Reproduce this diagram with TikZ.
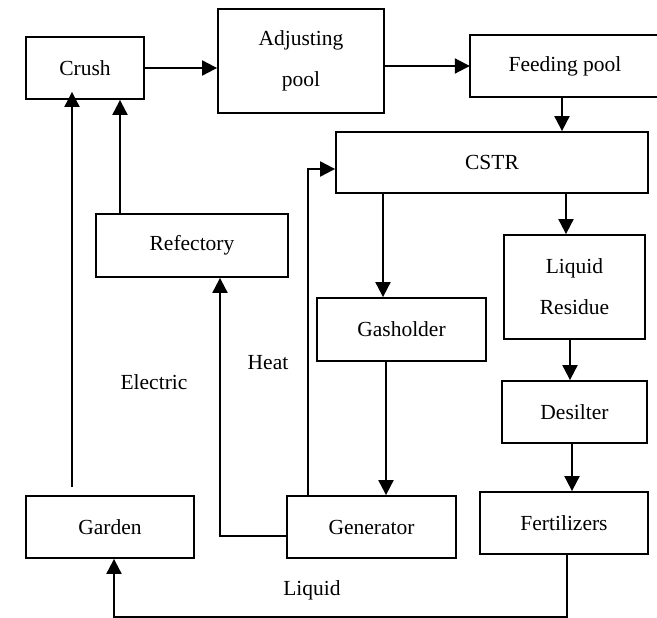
\documentclass[tikz,border=0pt]{standalone}
\usepackage{fontspec}
\setmainfont{Liberation Serif}
\usetikzlibrary{arrows.meta}
\tikzset{
  boxtext/.style={inner sep=0pt, align=center, font=\fontsize{21.5}{41}\selectfont},
  box/.style={boxtext, draw, line width=1.8pt},
  boxline/.style={line width=1.8pt},
  arr/.style={line width=2pt, -{Triangle[length=15pt,width=15pt]}},
  lbl/.style={font=\fontsize{21.5}{25}\selectfont, inner sep=0pt}
}
\begin{document}
\begin{tikzpicture}[x=1pt,y=-1pt]
\useasboundingbox (0,0) rectangle (657,618);
\node[box, minimum width=118pt, minimum height=62pt] (crush) at (85,68) {Crush};
\node[box, minimum width=166pt, minimum height=104pt] (adjust) at (301,61) {Adjusting\\pool};
\node[boxtext, minimum width=190pt, minimum height=62pt] (feed) at (565,66) {Feeding pool};
\draw[boxline] ([xshift=40pt]feed.south east) -- (feed.south west) -- (feed.north west) -- ([xshift=40pt]feed.north east);
\node[box, minimum width=312pt, minimum height=61pt] (cstr) at (492,162.5) {CSTR};
\node[box, minimum width=192pt, minimum height=63pt] (refec) at (192,245.5) {Refectory};
\node[box, minimum width=169pt, minimum height=63pt] (gas) at (401.5,329.5) {Gasholder};
\node[box, minimum width=141pt, minimum height=104pt] (lr) at (574.5,287) {Liquid\\Residue};
\node[box, minimum width=145pt, minimum height=62pt] (des) at (574.5,412) {Desilter};
\node[box, minimum width=168pt, minimum height=62pt] (fert) at (564,523) {Fertilizers};
\node[box, minimum width=169pt, minimum height=62pt] (gen) at (371.5,527) {Generator};
\node[box, minimum width=168pt, minimum height=62pt] (garden) at (110,527) {Garden};

\node[lbl] (electric) at (154,382) {Electric};
\node[lbl] (heat) at (268,363) {Heat};
\node[lbl] (liquid) at (312,590) {Liquid};

\draw[arr] (crush.east) -- (crush.east -| adjust.west);
\draw[arr] (adjust.east |- feed.west) -- (feed.west);
\draw[arr] ([xshift=-3pt]feed.south) -- ([xshift=-3pt]feed.south |- cstr.north);
\draw[arr] ([xshift=22pt]gen.north west) |- ([yshift=-6.5pt]cstr.west);
\draw[arr] ([xshift=-18.5pt]gas.north |- cstr.south) -- ([xshift=-18.5pt]gas.north);
\draw[arr] ([xshift=-8.5pt]lr.north |- cstr.south) -- ([xshift=-8.5pt]lr.north);
\draw[arr] ([xshift=-4.5pt]lr.south) -- ([xshift=-4.5pt]des.north);
\draw[arr] ([xshift=-2.5pt]des.south) -- ([xshift=-2.5pt]des.south |- fert.north);
\draw[arr] ([xshift=-15.5pt]gas.south) -- ([xshift=-15.5pt]gas.south |- gen.north);
\draw[arr] ([yshift=-9pt]gen.west) -| ([xshift=28pt]refec.south);
\draw[arr] ([xshift=-72pt]refec.north) -- ([xshift=-72pt]refec.north |- crush.south);
\draw[arr] ([xshift=-38pt,yshift=8pt]garden.north) -- ([xshift=-38pt,yshift=8pt]garden.north |- crush.south);
\draw[arr] ([xshift=3pt]fert.south) -- ++(0,62) -| ([xshift=4pt]garden.south);
\end{tikzpicture}
\end{document}
